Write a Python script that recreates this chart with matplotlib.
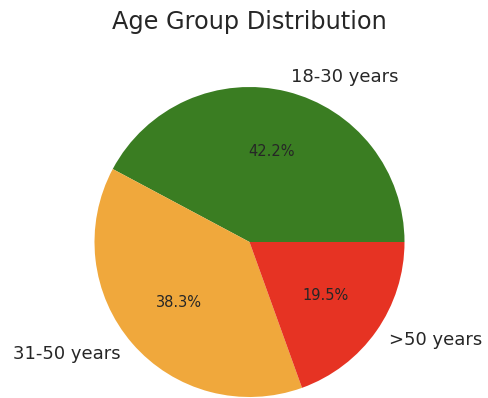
"""Pie chart of age group distribution"""
import matplotlib
matplotlib.use('Agg')
import matplotlib.pyplot as plt

LABELS = ['18-30 years', '31-50 years', '>50 years']
SHARES = [42.2, 38.3, 19.5]
COLORS = ['#3a7d22', '#f0a83c', '#e63323']

TEXT_COLOR = '#262626'

fig = plt.figure(figsize=(4.88, 3.98), dpi=100)
ax = fig.add_axes([94.5 / 488, 1 / 398, 310 / 488, 310 / 398])

wedges, texts, autotexts = ax.pie(SHARES, labels=LABELS, colors=COLORS,
                                  autopct='%1.1f%%', startangle=0,
                                  textprops={'color': TEXT_COLOR})
for t in texts:
    t.set_fontsize(13)
for t in autotexts:
    t.set_fontsize(10.5)
ax.set_xlim(-1, 1)
ax.set_ylim(-1, 1)
ax.set_aspect('equal')

fig.text(249.5 / 488, 1 - 22 / 398, 'Age Group Distribution', ha='center',
         va='center', fontsize=17.3, color=TEXT_COLOR)

fig.savefig('out.png', dpi=100)
